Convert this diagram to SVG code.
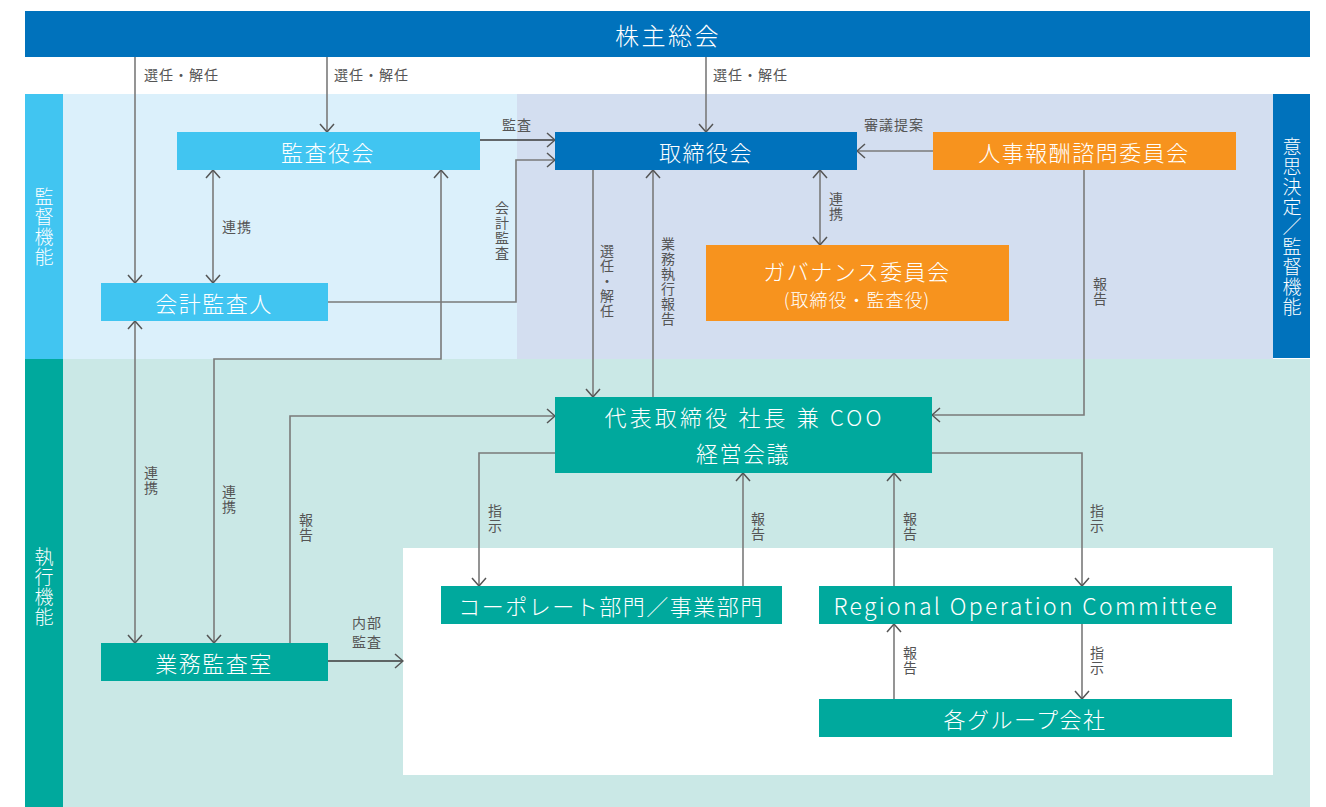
<svg xmlns="http://www.w3.org/2000/svg" width="1326" height="807" viewBox="0 0 1326 807">
<defs>
<style>
text{font-family:"Noto Sans CJK JP","Noto Sans",sans-serif;}
.nl{fill:#fff;font-size:22px;font-weight:300;letter-spacing:1.5px;text-anchor:middle;dominant-baseline:central;}
.lb{fill:#555;font-size:14px;letter-spacing:1px;}
.vl{fill:#555;font-size:14px;writing-mode:vertical-rl;letter-spacing:1px;}
.sv{fill:#fff;font-size:19px;font-weight:300;writing-mode:vertical-rl;letter-spacing:1px;}
.ln{fill:none;stroke:#7a7a7a;stroke-width:1.6;}
.dk{fill:none;stroke:#3a3a3a;stroke-width:1.3;}
</style>
<marker id="ah" viewBox="0 0 10 16" refX="9" refY="8" markerWidth="10" markerHeight="16" markerUnits="userSpaceOnUse" orient="auto-start-reverse">
<path d="M1,1 L9,8 L1,15" fill="none" stroke="#555" stroke-width="1.5"/>
</marker>
</defs>
<rect width="1326" height="807" fill="#fff"/>
<!-- backgrounds -->
<rect x="63" y="94" width="454" height="265" fill="#DBF0FB"/>
<rect x="517" y="94" width="756" height="265" fill="#D3DEF0"/>
<rect x="63" y="359" width="1247" height="448" fill="#CAE8E6"/>
<rect x="403" y="548" width="870" height="227" fill="#fff"/>
<g id="band-kantoku"><rect x="25" y="94" width="38" height="265" fill="#41C5F1"/><text class="sv" x="44" y="187">監督機能</text></g>
<g id="band-shikko"><rect x="25" y="359" width="38" height="448" fill="#00A99D"/><text class="sv" x="44" y="547">執行機能</text></g>
<g id="band-ishi"><rect x="1273" y="94" width="37" height="264" fill="#0072BC"/><text class="sv" x="1292" y="137">意思決定／監督機能</text></g>

<g id="connectors">
<path class="ln" d="M135,57 V283" marker-end="url(#ah)"/>
<path class="ln" d="M327,57 V132" marker-end="url(#ah)"/>
<path class="ln" d="M706,57 V132" marker-end="url(#ah)"/>
<path class="dk" d="M480,140 H555" marker-end="url(#ah)"/>
<path class="ln" d="M328,302 H516 V160 H555" marker-end="url(#ah)"/>
<path class="ln" d="M213,170 V283" marker-start="url(#ah)" marker-end="url(#ah)"/>
<path class="ln" d="M135,321 V643" marker-start="url(#ah)" marker-end="url(#ah)"/>
<path class="ln" d="M441,170 V359 H214 V643" marker-start="url(#ah)" marker-end="url(#ah)"/>
<path class="ln" d="M290,643 V416 H555" marker-end="url(#ah)"/>
<path class="dk" d="M328,661 H403" marker-end="url(#ah)"/>
<path class="ln" d="M593,170 V397" marker-end="url(#ah)"/>
<path class="ln" d="M653,397 V170" marker-end="url(#ah)"/>
<path class="ln" d="M820,170 V245" marker-start="url(#ah)" marker-end="url(#ah)"/>
<path class="ln" d="M933,151 H857" marker-end="url(#ah)"/>
<path class="ln" d="M1084,170 V415 H932" marker-end="url(#ah)"/>
<path class="ln" d="M555,453 H479 V586" marker-end="url(#ah)"/>
<path class="ln" d="M743,586 V473" marker-end="url(#ah)"/>
<path class="ln" d="M894,586 V473" marker-end="url(#ah)"/>
<path class="ln" d="M932,453 H1082 V586" marker-end="url(#ah)"/>
<path class="ln" d="M894,699 V624" marker-end="url(#ah)"/>
<path class="ln" d="M1082,624 V699" marker-end="url(#ah)"/>
</g>

<g id="labels">
<text class="lb" x="144" y="80">選任・解任</text>
<text class="lb" x="334" y="80">選任・解任</text>
<text class="lb" x="713" y="80">選任・解任</text>
<text class="lb" x="502" y="130">監査</text>
<text class="lb" x="864" y="130">審議提案</text>
<text class="lb" x="222" y="232">連携</text>
<text class="lb" x="352" y="628">内部</text>
<text class="lb" x="352" y="647">監査</text>
<text class="vl" x="502" y="201">会計監査</text>
<text class="vl" x="607" y="244">選任・解任</text>
<text class="vl" x="668" y="237">業務執行報告</text>
<text class="vl" x="836" y="192">連携</text>
<text class="vl" x="1100" y="277">報告</text>
<text class="vl" x="151" y="466">連携</text>
<text class="vl" x="229" y="485">連携</text>
<text class="vl" x="306" y="513">報告</text>
<text class="vl" x="495" y="504">指示</text>
<text class="vl" x="758" y="512">報告</text>
<text class="vl" x="910" y="512">報告</text>
<text class="vl" x="1097" y="504">指示</text>
<text class="vl" x="910" y="646">報告</text>
<text class="vl" x="1097" y="646">指示</text>
</g>

<g id="n-kabunushi"><rect x="25" y="11" width="1285" height="46" fill="#0072BC"/><text class="nl" x="668" y="34" style="font-size:24px;letter-spacing:2.5px">株主総会</text></g>
<g id="n-kansayakukai"><rect x="177" y="132" width="303" height="38" fill="#41C5F1"/><text class="nl" x="328" y="151">監査役会</text></g>
<g id="n-torishimariyakukai"><rect x="555" y="132" width="302" height="38" fill="#0072BC"/><text class="nl" x="706" y="151">取締役会</text></g>
<g id="n-jinji"><rect x="933" y="132" width="303" height="38" fill="#F7931E"/><text class="nl" x="1084" y="151">人事報酬諮問委員会</text></g>
<g id="n-governance"><rect x="706" y="245" width="303" height="76" fill="#F7931E"/><text class="nl" x="857" y="270">ガバナンス委員会</text><text class="nl" x="857" y="299" style="font-size:18px;letter-spacing:1px">(取締役・監査役)</text></g>
<g id="n-kaikei"><rect x="101" y="283" width="227" height="38" fill="#41C5F1"/><text class="nl" x="214" y="302">会計監査人</text></g>
<g id="n-daihyo"><rect x="555" y="397" width="377" height="76" fill="#00A99D"/><text class="nl" x="743" y="416" textLength="277" lengthAdjust="spacing" style="letter-spacing:0">代表取締役 社長 兼 COO</text><text class="nl" x="743" y="452">経営会議</text></g>
<g id="n-corporate"><rect x="441" y="586" width="341" height="38" fill="#00A99D"/><text class="nl" x="611" y="605">コーポレート部門／事業部門</text></g>
<g id="n-regional"><rect x="819" y="586" width="413" height="38" fill="#00A99D"/><text class="nl" x="1025" y="605" textLength="383" lengthAdjust="spacing" style="font-size:23px;letter-spacing:0">Regional Operation Committee</text></g>
<g id="n-group"><rect x="819" y="699" width="413" height="38" fill="#00A99D"/><text class="nl" x="1025" y="718">各グループ会社</text></g>
<g id="n-gyomu"><rect x="101" y="643" width="227" height="38" fill="#00A99D"/><text class="nl" x="214" y="662">業務監査室</text></g>
</svg>
